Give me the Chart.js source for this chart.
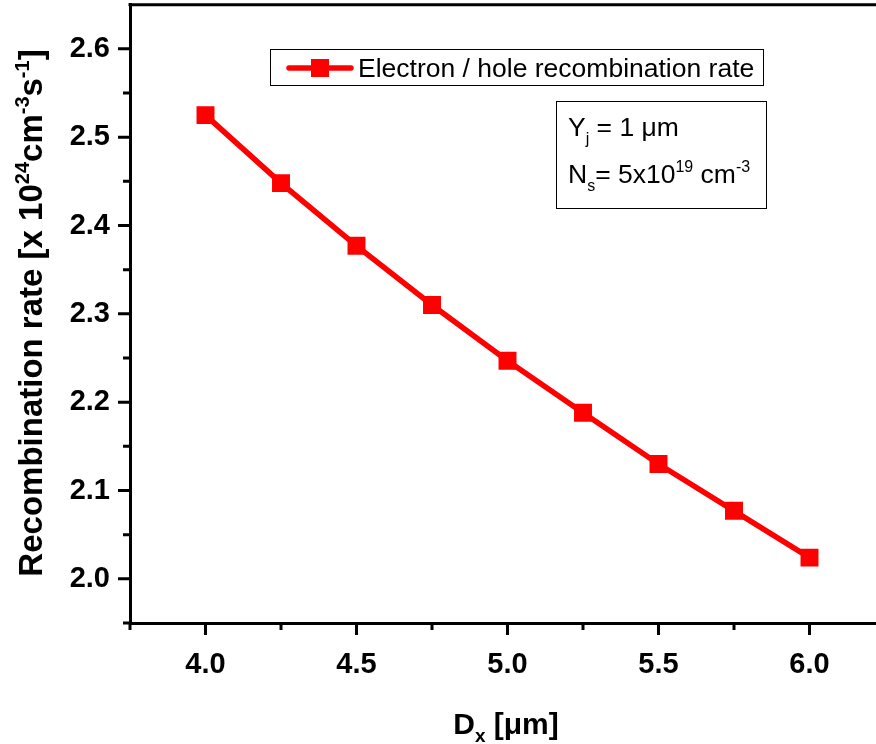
<!DOCTYPE html>
<html>
<head>
<meta charset="utf-8">
<script src="https://cdn.jsdelivr.net/npm/chart.js@4.4.1/dist/chart.umd.min.js"></script>
<style>
  html, body { margin: 0; padding: 0; background: #fff; overflow: hidden; }
  #wrap { width: 876px; height: 744px; overflow: hidden; }
  #chart { display: block; margin-top: -8px; }
</style>
</head>
<body>
<div id="wrap"><canvas id="chart" width="900" height="752"></canvas></div>
<script>
// data
const dx = [4.0, 4.25, 4.5, 4.75, 5.0, 5.25, 5.5, 5.75, 6.0]
const rate = [2.525, 2.448, 2.377, 2.310, 2.247, 2.188, 2.130, 2.077, 2.024]
const xTicks = [4.0, 4.5, 5.0, 5.5, 6.0]
const xMinorTicks = [3.75, 4.25, 4.75, 5.25, 5.75, 6.25]
const yTicks = [2.0, 2.1, 2.2, 2.3, 2.4, 2.5, 2.6]
const yMinorTicks = [1.95, 2.05, 2.15, 2.25, 2.35, 2.45, 2.55]
const seriesLabel = 'Electron / hole recombination rate'

const FONT = "'Liberation Sans', Arial, sans-serif"
const RED = '#ff0000'
const SHIFT = 8 // canvas is pulled up by this much

// draws text pieces one after another: [text, size, bold, dy]
function drawRich(ctx, x, y, parts, center) {
  let total = 0
  parts.forEach(p => {
    ctx.font = (p[2] ? 'bold ' : '') + p[1] + 'px ' + FONT
    p.w = ctx.measureText(p[0]).width
    total += p.w
  })
  let cx = center ? x - total / 2 : x
  ctx.textAlign = 'left'
  ctx.textBaseline = 'alphabetic'
  parts.forEach(p => {
    ctx.font = (p[2] ? 'bold ' : '') + p[1] + 'px ' + FONT
    ctx.fillText(p[0], cx, y + (p[3] || 0))
    cx += p.w
  })
}

const decor = {
  id: 'decor',
  afterDraw(chart) {
    const { ctx, chartArea: a, scales: { x, y } } = chart
    ctx.save()
    ctx.strokeStyle = '#000'
    ctx.fillStyle = '#000'
    ctx.lineWidth = 3

    // top frame line
    ctx.beginPath()
    ctx.moveTo(a.left - 1.5, a.top)
    ctx.lineTo(a.right, a.top)
    ctx.stroke()

    // tick marks, outward
    ctx.beginPath()
    yTicks.forEach(v => { const p = y.getPixelForValue(v); ctx.moveTo(a.left, p); ctx.lineTo(a.left - 12, p) })
    yMinorTicks.forEach(v => { const p = y.getPixelForValue(v); ctx.moveTo(a.left, p); ctx.lineTo(a.left - 7, p) })
    xTicks.forEach(v => { const p = x.getPixelForValue(v); ctx.moveTo(p, a.bottom); ctx.lineTo(p, a.bottom + 12) })
    xMinorTicks.forEach(v => { const p = x.getPixelForValue(v); ctx.moveTo(p, a.bottom); ctx.lineTo(p, a.bottom + 7) })
    ctx.stroke()

    ctx.translate(0, SHIFT)

    // axis titles
    drawRich(ctx, 506, 734, [['D', 30, true], ['x', 19, true, 8], [' [\u03bcm]', 30, true]], true)
    ctx.save()
    ctx.translate(42, 313)
    ctx.rotate(-Math.PI / 2)
    drawRich(ctx, 0, 0, [
      ['Recombination rate [x 10', 33, true], ['24', 20, true, -13],
      ['cm', 33, true], ['-3', 20, true, -13],
      ['s', 33, true], ['-1', 20, true, -13], [']', 33, true]
    ], true)
    ctx.restore()

    // legend box
    ctx.lineWidth = 1
    ctx.strokeRect(270.5, 49.5, 493, 36)
    const ds = chart.data.datasets[0]
    ctx.strokeStyle = ds.borderColor
    ctx.lineWidth = 5.5
    ctx.lineCap = 'round'
    ctx.beginPath()
    ctx.moveTo(289, 68)
    ctx.lineTo(351, 68)
    ctx.stroke()
    ctx.fillStyle = ds.borderColor
    ctx.fillRect(311, 59, 18, 18)
    ctx.fillStyle = '#000'
    drawRich(ctx, 358, 77, [[ds.label, 26.5, false]])

    // parameter box
    ctx.strokeStyle = '#000'
    ctx.lineWidth = 1
    ctx.strokeRect(556.5, 101.5, 210, 107)
    drawRich(ctx, 568, 136, [['Y', 26.5], ['j', 16, false, 8], [' = 1 \u03bcm', 26.5]])
    drawRich(ctx, 568, 183, [['N', 26.5], ['s', 16, false, 8], ['= 5x10', 26.5], ['19', 16, false, -11], [' cm', 26.5], ['-3', 16, false, -11]])
    ctx.restore()
  }
}

new Chart(document.getElementById('chart'), {
  type: 'line',
  data: {
    datasets: [{
      label: seriesLabel,
      data: dx.map((v, i) => ({ x: v, y: rate[i] })),
      borderColor: RED,
      backgroundColor: RED,
      borderWidth: 5.5,
      pointStyle: 'rect',
      pointRadius: 12.7,
      pointBorderWidth: 0,
      pointBackgroundColor: RED,
      tension: 0
    }]
  },
  options: {
    responsive: false,
    animation: false,
    layout: { padding: { top: 5, right: 15, left: 0, bottom: 0 } },
    plugins: {
      legend: { display: false },
      tooltip: { enabled: false }
    },
    scales: {
      x: {
        type: 'linear',
        min: 3.75,
        max: 6.25,
        afterBuildTicks: s => { s.ticks = xTicks.map(v => ({ value: v })) },
        afterFit: s => { s.height = 121; s.paddingLeft = 0; s.paddingRight = 0 },
        grid: { display: false, drawTicks: false },
        border: { display: true, color: '#000', width: 3 },
        ticks: {
          color: '#000',
          padding: 25,
          font: { family: FONT, size: 29, weight: 'bold' },
          callback: v => v.toFixed(1)
        }
      },
      y: {
        min: 1.95,
        max: 2.65,
        afterBuildTicks: s => { s.ticks = yTicks.map(v => ({ value: v })) },
        afterFit: s => { s.width = 130; s.paddingTop = 0; s.paddingBottom = 0 },
        grid: { display: false, drawTicks: false },
        border: { display: true, color: '#000', width: 3 },
        ticks: {
          color: '#000',
          padding: 20,
          font: { family: FONT, size: 29, weight: 'bold' },
          callback: v => v.toFixed(1)
        }
      }
    }
  },
  plugins: [decor]
})
</script>
</body>
</html>
